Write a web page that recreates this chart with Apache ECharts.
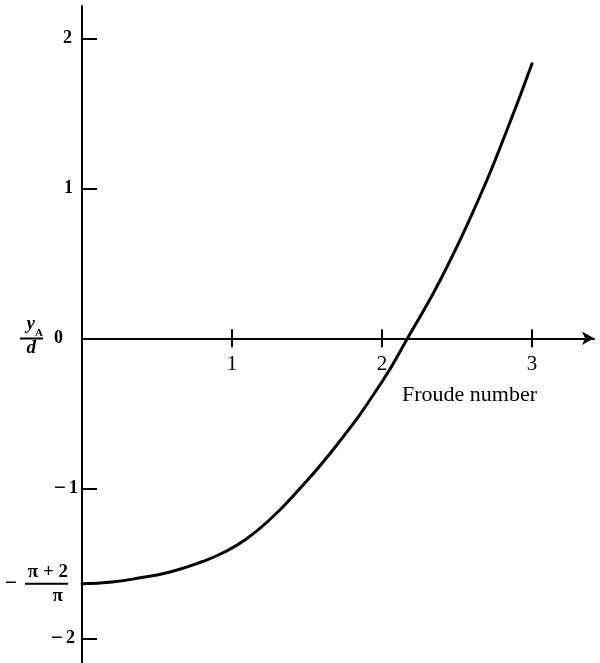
<!DOCTYPE html>
<html>
<head>
<meta charset="utf-8">
<script src="https://cdn.jsdelivr.net/npm/echarts@6/dist/echarts.min.js"></script>
<style>
  html, body { margin: 0; padding: 0; background: #fff; }
  #chart { width: 600px; height: 663px; }
</style>
</head>
<body>
<div id="chart"></div>
<script>
// Froude number (x) and dimensionless height y_A / d of the curve
var froude = [0, 0.2, 0.4, 0.6, 0.8, 0.95, 1.1, 1.25, 1.4, 1.7, 2.0, 2.17, 2.4, 2.65, 2.83, 3.0];
var heightRatio = [-1.637, -1.625, -1.595, -1.555, -1.49, -1.425, -1.335, -1.21, -1.06, -0.71, -0.29, 0, 0.41, 0.94, 1.38, 1.83];

// Axis ticks and labels
var xTicks = [1, 2, 3];
var yTicks = [-2, -1, 1, 2];
var startValue = -(Math.PI + 2) / Math.PI;
var yLabelValues = [-2, startValue, -1, 0, 1, 2];

var SERIF = '"Liberation Serif", "DejaVu Serif", serif';

// plot area geometry
var GRID_LEFT = 82, GRID_TOP = 6, GRID_W = 512, GRID_H = 657;
var PX_PER_UNIT = 150;
var X_MAX = GRID_W / PX_PER_UNIT;
var Y_MIN = -2.165, Y_MAX = Y_MIN + GRID_H / PX_PER_UNIT;
// the Froude axis sits at y = 0: shift it up from the bottom edge of the grid
var X_AXIS_OFFSET = -(0 - Y_MIN) * PX_PER_UNIT;

var chart = echarts.init(document.getElementById('chart'), null, { renderer: 'canvas' });

var points = froude.map(function (f, i) { return [f, heightRatio[i]]; });

// right padding per y label (typeset positions differ a little)
var yLabelPad = { '2': 6, '1': 5, '0': 15, '-1': 0, '-2': 3 };

function yLabel(v) {
  if (Math.abs(v - startValue) < 1e-9) {
    return '{num|π + 2}{s|}\n{m|−}{g|}{bar|}{s|}\n{den|π}{sd|}';
  }
  var r = Math.round(v);
  var pad = '{p' + yLabelPad[String(r)] + '|}';
  if (r < 0) return '{mn|−}{vn|' + Math.abs(r) + '}' + pad;
  return '{vp|' + r + '}' + pad;
}

var rich = {
  vp: { fontFamily: SERIF, fontWeight: 'bold', fontSize: 18, color: '#000' },
  vn: { fontFamily: SERIF, fontWeight: 'bold', fontSize: 18, color: '#000', padding: [0, 0, 0, 3] },
  mn: { fontFamily: SERIF, fontWeight: 'bold', fontSize: 21, color: '#000' },
  num: { fontFamily: SERIF, fontWeight: 'bold', fontSize: 19, color: '#000', lineHeight: 16 },
  den: { fontFamily: SERIF, fontWeight: 'bold', fontSize: 19, color: '#000', lineHeight: 16 },
  m: { fontFamily: SERIF, fontWeight: 'bold', fontSize: 21, color: '#000', lineHeight: 8 },
  g: { width: 8, lineHeight: 8 },
  bar: { width: 43, height: 2, lineHeight: 8, backgroundColor: '#000' },
  s: { width: 10, lineHeight: 8 },
  sd: { width: 15, lineHeight: 16 }
};
[0, 3, 5, 6, 15].forEach(function (w) { rich['p' + w] = { width: w }; });

var option = {
  animation: false,
  backgroundColor: '#fff',
  grid: { left: GRID_LEFT, top: GRID_TOP, width: GRID_W, height: GRID_H, outerBoundsMode: 'none', containLabel: false },
  xAxis: [
    {
      type: 'value',
      position: 'bottom',
      offset: X_AXIS_OFFSET,
      min: 0,
      max: X_MAX,
      splitLine: { show: false },
      axisLine: {
        show: true,
        onZero: false,
        symbol: ['none', 'arrow'],
        symbolSize: [10, 12],
        lineStyle: { color: '#000', width: 2 }
      },
      axisTick: { show: true, length: 9, customValues: xTicks, lineStyle: { color: '#000', width: 2 } },
      axisLabel: {
        show: true,
        customValues: xTicks,
        margin: 16,
        fontFamily: SERIF,
        fontSize: 21,
        color: '#000'
      },
      name: 'Froude number',
      nameLocation: 'end',
      nameGap: 0,
      nameMoveOverlap: false,
      nameTextStyle: {
        fontFamily: SERIF,
        fontSize: 22,
        color: '#000',
        align: 'right',
        verticalAlign: 'top',
        padding: [46, 57, 0, 0]
      }
    },
    {
      // upper halves of the crossing ticks on the Froude axis
      type: 'value',
      position: 'bottom',
      offset: X_AXIS_OFFSET,
      min: 0,
      max: X_MAX,
      splitLine: { show: false },
      axisLine: { show: false, onZero: false },
      axisTick: { show: true, inside: true, length: 9, customValues: xTicks, lineStyle: { color: '#000', width: 2 } },
      axisLabel: { show: false }
    }
  ],
  yAxis: [
    {
      type: 'value',
      position: 'left',
      min: Y_MIN,
      max: Y_MAX,
      splitLine: { show: false },
      axisLine: { show: true, onZero: false, lineStyle: { color: '#000', width: 2 } },
      axisTick: { show: true, inside: true, length: 15, customValues: yTicks, lineStyle: { color: '#000', width: 2 } },
      axisLabel: {
        customValues: yLabelValues,
        margin: 4,
        color: '#000',
        formatter: yLabel,
        rich: rich
      },
      name: '{y|y}{a|A}\n{bar|}\n{d|d}{ds|}',
      nameLocation: 'middle',
      nameRotate: 0,
      nameGap: 39,
      nameMoveOverlap: false,
      nameTextStyle: {
        align: 'right',
        verticalAlign: 'middle',
        rich: {
          y: { fontFamily: SERIF, fontStyle: 'italic', fontWeight: 'bold', fontSize: 19, color: '#000', lineHeight: 22 },
          a: { fontFamily: SERIF, fontWeight: 'bold', fontSize: 11, color: '#000', lineHeight: 22, padding: [17, 0, 0, 0] },
          bar: { width: 23, height: 2, lineHeight: 6, backgroundColor: '#000' },
          d: { fontFamily: SERIF, fontStyle: 'italic', fontWeight: 'bold', fontSize: 19, color: '#000', lineHeight: 14 },
          ds: { width: 7, lineHeight: 14 }
        }
      }
    }
  ],
  series: [
    {
      type: 'line',
      xAxisIndex: 0,
      yAxisIndex: 0,
      data: points,
      smooth: 0.5,
      showSymbol: false,
      symbol: 'none',
      lineStyle: { color: '#000', width: 3, cap: 'round' },
      z: 3
    }
  ]
};

chart.setOption(option);
</script>
</body>
</html>
